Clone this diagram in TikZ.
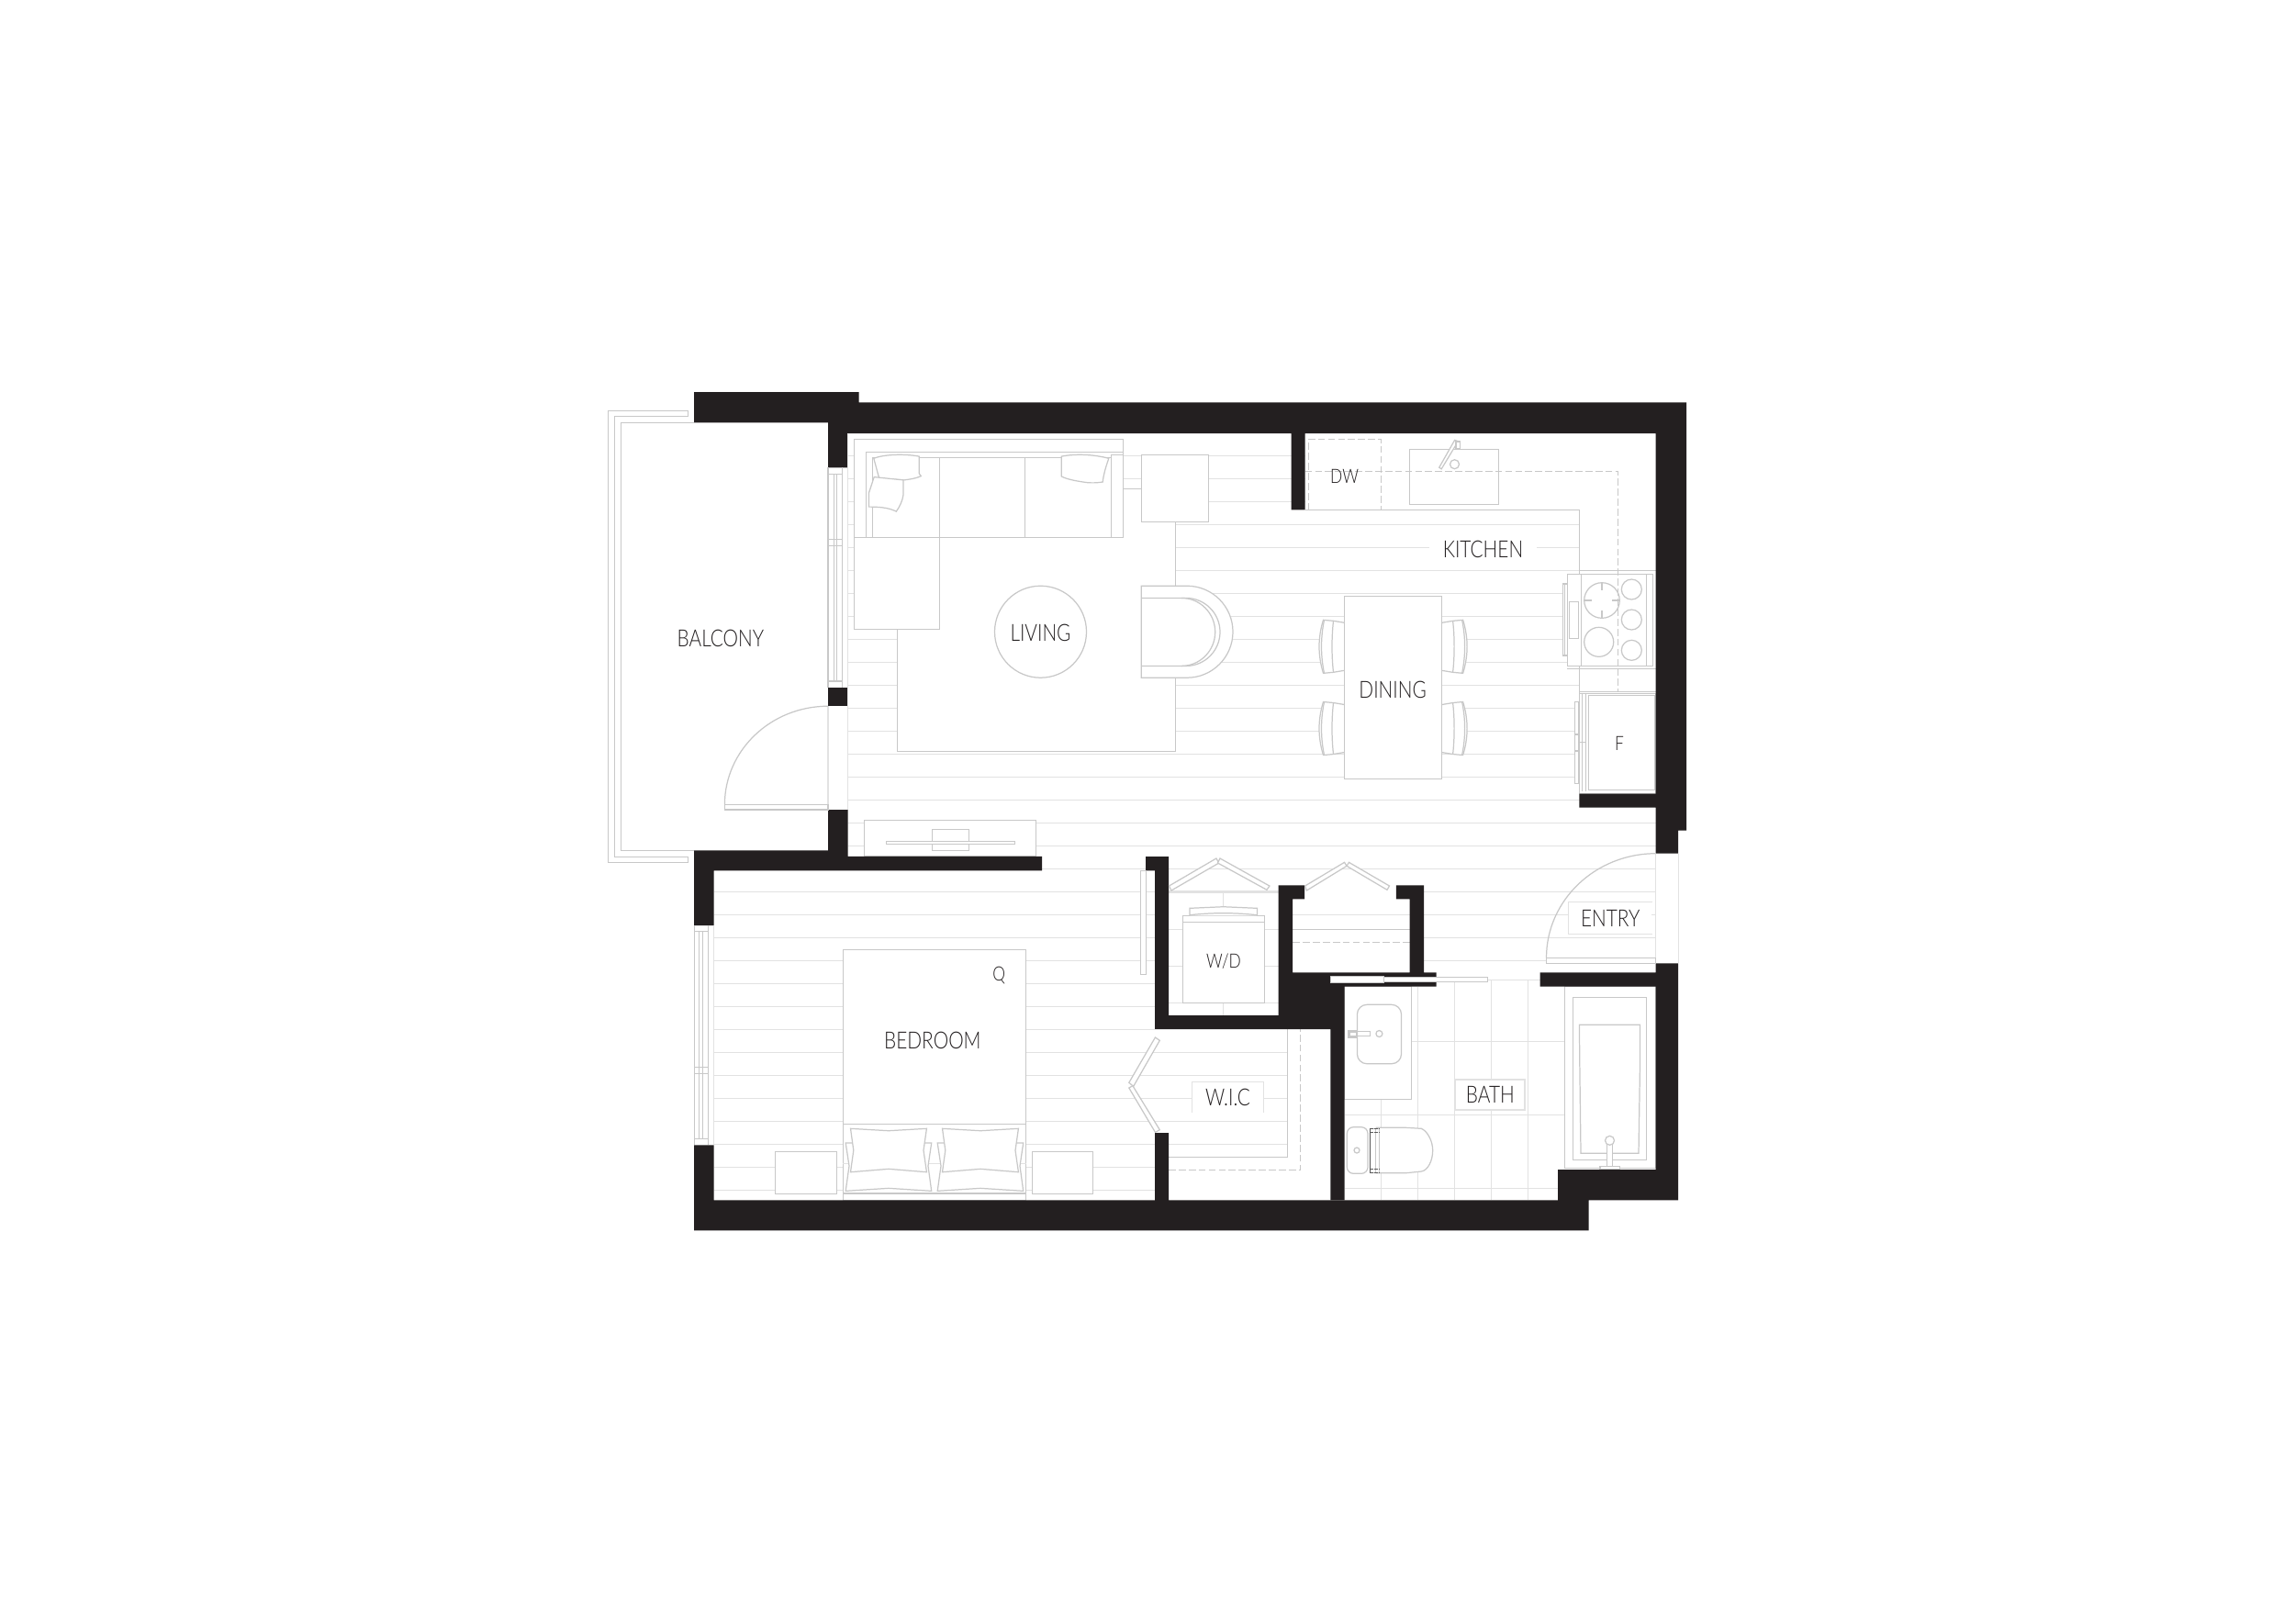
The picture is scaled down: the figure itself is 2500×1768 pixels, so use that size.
\documentclass[tikz,border=0pt]{standalone}
\usepackage{fontspec}
\setmainfont{Lato Light}[FakeStretch=0.81]
\definecolor{wallc}{HTML}{231F20}
\definecolor{linec}{HTML}{C8C8C8}
\definecolor{plankc}{HTML}{E2E2E2}
\definecolor{textc}{HTML}{231F20}
\tikzset{
    wall/.style={fill=wallc},
    furn/.style={draw=linec, line width=0.35pt, fill=white},
    thin line/.style={draw=linec, line width=0.35pt},
    plank/.style={draw=plankc, line width=0.4pt},
    cabinet/.style={draw=linec, line width=0.35pt, dash pattern=on 2.2pt off 0.9pt},
    roomname/.style={font=\fontsize{7.3}{8}\selectfont, text=textc, inner sep=0pt},
    smallname/.style={roomname, font=\fontsize{6.1}{7}\selectfont}
}
\begin{document}
\begin{tikzpicture}[x=0.01cm, y=-0.01cm]
    \useasboundingbox[fill=white] (0,0) rectangle (2500,1768);

    % floor boards and tiles
    \foreach \k in {0,...,17} {
        \draw[plank] (923.7,{496.4+25*\k}) -- (1803.7,{496.4+25*\k});
    }
    \draw[plank] (1135,946.4) -- (1803.7,946.4);
    \foreach \y in {971.4,996.4,1021.4,1046.4} {
        \draw[plank] (1551,\y) -- (1803.7,\y);
    }
    \foreach \k in {1,...,14} {
        \draw[plank] (777.6,{946.4+25*\k}) -- (1258,{946.4+25*\k});
    }
    \foreach \y in {1146.4,1171.4,1196.4,1221.4,1246.4} {
        \draw[plank] (1258,\y) -- (1402.4,\y);
    }
    \draw[plank] (1408.2,996.4) -- (1535.5,996.4);
    \foreach \y in {1134.3,1214.3,1294.3} {
        \draw[plank] (1464.5,\y) -- (1704.5,\y);
    }
    \draw[plank] (1564.5,1067.7) -- (1677.6,1067.7);
    \foreach \x in {1504.5,1544.5} {
        \draw[plank] (\x,1074.7) -- (\x,1307.3);
    }
    \foreach \x in {1584.5,1624.5,1664.5} {
        \draw[plank] (\x,1067.7) -- (\x,1307.3);
    }
    \foreach \y in {1012.3,1052.3,1092.3} {
        \draw[plank] (1273,\y) -- (1392.7,\y);
    }
    \draw[plank, line width=0.8pt] (1273,971.7) -- (1392.7,971.7);
    \draw[plank] (1332.7,971.7) -- (1332.7,988.3);
    \draw[plank] (1332.7,1092.3) -- (1332.7,1106);

    % kitchen counters
    \fill[white] (1421.6,472.1) rectangle (1803.7,555.4);
    \fill[white] (1720.4,555.4) rectangle (1803.7,864.6);
    \draw[thin line] (1421.6,555.4) -- (1720.6,555.4) -- (1720.6,864.6);
    \draw[cabinet] (1425.7,555.4) -- (1425.7,478.2) -- (1504.5,478.2) -- (1504.5,555.4);
    \draw[thin line] (1720.6,753.3) -- (1803.7,753.3);
    \draw[thin line] (1720.6,755.7) -- (1803.7,755.7);
    \draw[thin line] (1720.6,621.3) -- (1803.7,621.3);
    \draw[thin line] (1707.3,728.3) -- (1803.7,728.3);

    % sink
    \draw[furn] (1535.5,489.3) rectangle (1632.7,549.3);
    \draw[furn] (1584.5,505.7) circle (5);
    \draw[furn] (1567.7,509.2) -- (1584.6,479.4) -- (1588.4,480.6) -- (1570.2,510.8) -- cycle;
    \draw[furn] (1586,481) rectangle (1590.2,489);

    % stove
    \draw[furn] (1702.3,636) rectangle (1707.3,714);
    \draw[thin line] (1704.7,636) -- (1704.7,714);
    \draw[furn] (1707.3,625.3) rectangle (1800.7,725.3);
    \draw[thin line] (1722.3,625.3) -- (1722.3,725.3);
    \draw[thin line] (1793.3,625.3) -- (1793.3,725.3);
    \draw[furn] (1709.3,655.3) rectangle (1719.3,695.3);
    \foreach \bx/\by/\br in {1745/654/19.3, 1741.7/699.3/16, 1777.3/642/11, 1777.3/675/11, 1777.3/708.3/11} {
        \draw[thin line] (\bx,\by) circle (\br);
    }
    \draw[thin line] (1725.7,654) -- (1734,654) (1756,654) -- (1764,654);
    \draw[thin line] (1745,635) -- (1745,643.3) (1745,665) -- (1745,673.3);
    \draw[cabinet] (1421.6,513.2) -- (1762.4,513.2) -- (1762.4,753.3);

    % fridge
    \draw[furn] (1715.3,764.3) rectangle (1720,853.3);
    \draw[thin line] (1715.3,800) -- (1720,800) (1715.3,818) -- (1720,818);
    \draw[furn] (1720.6,755.7) rectangle (1803.3,864.3);
    \foreach \x in {1723.3,1727.3} {
        \draw[thin line] (\x,755.7) -- (\x,862);
    }
    \draw[furn] (1730.7,757.7) rectangle (1802.7,860.7);
    \draw[thin line] (1720.6,808.7) -- (1727.3,808.7);

    % rug, sofa and side table
    \draw[furn] (977.6,532.5) rectangle (1280.4,818.2);
    \draw[furn] (930.2,585.4) -- (930.2,478.2) -- (1223.7,478.2) -- (1223.7,585.4) -- cycle;
    \draw[thin line] (930.2,585.4) -- (943.3,585.4) -- (943.3,492.5) -- (1223.7,492.5);
    \draw[thin line] (1210.2,585.4) -- (1210.2,495.4) -- (1223.7,495.4);
    \draw[thin line] (1210.2,498.2) -- (950.2,498.2) -- (950.2,591.4) -- (930.2,591.4);
    \foreach \x in {1023.7,1116.3} {
        \draw[thin line] (\x,498.2) -- (\x,585.4);
    }
    \draw[furn] (930.2,585.4) rectangle (1023.7,685.4);
    \draw[furn] (951.8,499.3) .. controls (962,495) and (985,494) .. (1001.2,497.1) -- (1001.2,515.7) -- (1003.3,518.6) .. controls (995,522) and (990,522) .. (984.9,522.9) .. controls (975,522) and (965,522) .. (957.6,520.7) -- cycle;
    \draw[furn] (1156.3,497.1) .. controls (1172,494) and (1192,495) .. (1207.8,499.3) .. controls (1204,510) and (1202,518) .. (1201.2,525) .. controls (1195,526) and (1190,526) .. (1184.9,525.7) .. controls (1172,524) and (1162,522) .. (1156.3,518.9) -- cycle;
    \draw[furn] (952.2,519.6) -- (984.1,522.9) -- (984.1,538.6) .. controls (983,546) and (980,552) .. (976.3,557.1) .. controls (970,554) and (962,552) .. (946.5,552.1) -- (946.5,536.8) -- cycle;
    \draw[furn] (1243.3,495.4) rectangle (1316.7,568.2);
    \draw[thin line] (1223.7,532.5) -- (1243.3,532.5);
    \draw[furn] (1133.5,688.2) circle (50);

    % armchair
    \draw[furn] (1243.3,638.2) -- (1293,638.2) .. controls (1320.6,638.2) and (1343,660.6) .. (1343,688.2) .. controls (1343,715.8) and (1320.6,738.2) .. (1293,738.2) -- (1243.3,738.2) -- cycle;
    \draw[thin line] (1243.3,651.4) -- (1292,651.4) .. controls (1312.4,651.4) and (1329,668) .. (1329,688.4) .. controls (1329,708.8) and (1312.4,725.4) .. (1292,725.4) -- (1243.3,725.4);
    \draw[thin line] (1287,651.4) .. controls (1307.3,651.4) and (1323.7,668) .. (1323.7,688.4) .. controls (1323.7,708.8) and (1307.3,725.4) .. (1287,725.4);

    % media console
    \draw[furn] (941.2,893.2) rectangle (1128.6,932.9);
    \draw[furn] (1015.5,903.2) rectangle (1055.5,926.4);
    \draw[furn] (965.3,916.4) rectangle (1105.7,919.6);

    % dining table and chairs
    \foreach \cx/\cy/\sx in {1464.5/704.3/1, 1464.5/793.5/1, 1570.6/704.3/-1, 1570.6/793.5/-1} {
        \begin{scope}[shift={(\cx,\cy)}, xscale=\sx]
            \draw[furn] (0,-26) -- (-12,-28) -- (-23,-29) .. controls (-29,-10) and (-29,10) .. (-23,29) -- (-12,28) -- (0,26);
            \draw[thin line] (-12,-28) .. controls (-14,-10) and (-14,10) .. (-12,28);
            \draw[thin line] (-22,-29) .. controls (-26,-10) and (-26,10) .. (-22,29);
        \end{scope}
    }
    \draw[furn] (1464.5,649.3) rectangle (1570.6,848.2);

    % bed and night stands
    \draw[furn] (918.4,1034.3) rectangle (1117.6,1307.3);
    \draw[thin line] (918.4,1224.3) -- (1117.6,1224.3);
    \draw[thin line] (918.4,1300) -- (1117.6,1300);
    \draw[plank] (918.4,1267.3) -- (1117.6,1267.3);
    \draw[furn] (844.5,1254.3) rectangle (911.4,1300.3);
    \draw[furn] (1124.5,1254.3) rectangle (1190.6,1300.3);
    \foreach \dx in {0,100} {
        \begin{scope}[shift={(\dx,0)}]
            \draw[furn] (921.2,1245) -- (1014.7,1245) -- (1011,1270) -- (1014.7,1297.3) -- (968,1294.3) -- (921.2,1297.3) -- (925,1270) -- cycle;
            \draw[furn] (926.5,1229.3) -- (968,1231.7) -- (1009.4,1229.3) -- (1006,1253) -- (1009.4,1276.7) -- (968,1273.3) -- (926.5,1276.7) -- (929.8,1253) -- cycle;
        \end{scope}
    }

    % closets
    \draw[furn] (1288.6,997.3) rectangle (1377.6,1092.3);
    \draw[thin line] (1288.6,1004.3) -- (1377.6,1004.3);
    \draw[furn] (1295.9,997.3) -- (1295.9,989.3) -- (1332.7,987.7) -- (1369.4,989.3) -- (1369.4,997.3);
    \draw[thin line] (1295.9,996.7) .. controls (1320,994) and (1345,994) .. (1369.4,996.7);
    \draw[thin line] (1408.2,1012.3) -- (1535.5,1012.3);
    \draw[cabinet] (1408.2,1026.3) -- (1535.5,1026.3);
    \draw[thin line] (1273,1260.3) -- (1402.4,1260.3) -- (1402.4,1121);
    \draw[cabinet] (1273,1274.3) -- (1416.7,1274.3) -- (1416.7,1121);

    % bath fixtures
    \draw[furn] (1464.5,1074.7) rectangle (1537.6,1197.3);
    \draw[furn, rounded corners=3] (1478.4,1094.3) rectangle (1526.5,1158.7);
    \draw[draw=linec, line width=0.8pt] (1469.8,1123.3) rectangle (1478,1129.3);
    \draw[thin line] (1478,1123.8) rectangle (1492.7,1128.8);
    \draw[furn] (1502.4,1126) circle (3.5);
    \draw[furn, rounded corners=2] (1467.3,1227.7) rectangle (1490,1278.3);
    \draw[furn] (1478,1253) circle (3);
    \draw[furn] (1499.3,1228.3) -- (1531.7,1228.3) -- (1548.3,1229.3) .. controls (1555,1232) and (1560.7,1243) .. (1560.7,1253) .. controls (1560.7,1265) and (1555,1275) .. (1548.3,1276) -- (1531.7,1277.7) -- (1499.3,1277.7) -- cycle;
    \draw[thin line, fill=white] (1492.3,1229.3) rectangle (1502.7,1277.7);
    \draw[thin line] (1498.3,1229.3) -- (1498.3,1277.7);
    \draw[draw=black!65, line width=0.35pt] (1492.3,1229.3) -- (1492.3,1277.7);
    \foreach \y in {1229.3,1233.3,1273.3,1277.7} {
        \draw[draw=black!65, line width=0.3pt, dash pattern=on 1pt off 0.4pt] (1492.3,\y) -- (1502.7,\y);
    }
    \draw[furn] (1704.5,1074.7) rectangle (1803.7,1272.7);
    \draw[furn] (1713.5,1086.3) rectangle (1793.5,1263.3);
    \draw[furn] (1720.4,1116.3) -- (1786.5,1116.3) -- (1786.5,1158.3) -- (1785,1256.3) -- (1722,1256.3) -- (1720.8,1158.3) -- cycle;
    \draw[furn] (1750.2,1246.7) rectangle (1756.3,1270.7);
    \draw[furn] (1753.5,1242.3) circle (5);
    \draw[furn] (1742.9,1270.7) rectangle (1764.5,1274);

    % walls
    \fill[wall] (756,427) -- (935.5,427) -- (935.5,438.4) -- (1837,438.4) -- (1837,904.6) -- (1828.2,904.6) -- (1828.2,929.7) -- (1803.7,929.7) -- (1803.7,879.6) -- (1720.4,879.6) -- (1720.4,864.6) -- (1803.7,864.6) -- (1803.7,472.1) -- (1421.6,472.1) -- (1421.6,555.4) -- (1406.5,555.4) -- (1406.5,472.1) -- (923.7,472.1) -- (923.7,509.3) -- (902,509.3) -- (902,460.4) -- (756,460.4) -- cycle;
    \fill[wall] (902,749) rectangle (923.7,769.2);
    \fill[wall] (902,882) -- (923.7,882) -- (923.7,932.9) -- (1135,932.9) -- (1135,948.3) -- (777.6,948.3) -- (777.6,1008) -- (756,1008) -- (756,926.4) -- (902,926.4) -- cycle;
    \fill[wall] (756,1247.3) -- (777.6,1247.3) -- (777.6,1307.3) -- (1258,1307.3) -- (1258,1234) -- (1273,1234) -- (1273,1307.3) -- (1697.1,1307.3) -- (1697.1,1274) -- (1803.7,1274) -- (1803.7,1074.7) -- (1677.6,1074.7) -- (1677.6,1059.3) -- (1803.7,1059.3) -- (1803.7,1049.3) -- (1828.2,1049.3) -- (1828.2,1307.3) -- (1730.6,1307.3) -- (1730.6,1340.3) -- (756,1340.3) -- cycle;
    \fill[wall] (1248.2,933) -- (1273,933) -- (1273,1106) -- (1392.7,1106) -- (1392.7,964.3) -- (1421.2,964.3) -- (1421.2,979.3) -- (1408.2,979.3) -- (1408.2,1059.3) -- (1535.5,1059.3) -- (1535.5,979.3) -- (1520.8,979.3) -- (1520.8,964.3) -- (1551,964.3) -- (1551,1059.3) -- (1564.5,1059.3) -- (1564.5,1074.7) -- (1464.5,1074.7) -- (1464.5,1307.4) -- (1449.4,1307.4) -- (1449.4,1121) -- (1258,1121) -- (1258,948.3) -- (1248.2,948.3) -- cycle;

    % balcony rail and edge
    \draw[thin line] (749.4,447.5) -- (662.4,447.5) -- (662.4,939.3) -- (749.4,939.3) -- (749.4,933.2) -- (669.4,933.2) -- (669.4,453.2) -- (749.4,453.2) -- cycle;
    \draw[thin line] (756,460.4) -- (676.3,460.4) -- (676.3,926.4) -- (756,926.4);

    % windows
    \draw[thin line] (902,509.3) -- (902,749);
    \draw[thin line] (917.6,509.3) -- (917.6,749);
    \draw[plank] (923.7,472.1) -- (923.7,882);
    \foreach \x in {908.2,911.4} {
        \draw[thin line] (\x,516.4) -- (\x,742);
    }
    \foreach \y in {516.4,587.5,594.6,742} {
        \draw[thin line] (902,\y) -- (917.6,\y);
    }
    \draw[thin line] (756.3,1008) -- (756.3,1247.3);
    \draw[thin line] (771.4,1008) -- (771.4,1247.3);
    \draw[plank] (777.6,1008) -- (777.6,1247.3);
    \foreach \x in {761.2,765.7} {
        \draw[thin line] (\x,1014.3) -- (\x,1240.3);
    }
    \foreach \y in {1014.3,1162.3,1169.3,1240.3} {
        \draw[thin line] (756.3,\y) -- (771.4,\y);
    }

    % doors
    \draw[plank] (902,769.2) -- (902,882);
    \draw[furn] (789.4,876.4) rectangle (902,882);
    \draw[thin line] (789.4,876.4) .. controls (789.4,817.3) and (839.8,769.2) .. (902,769.2);
    \draw[plank] (1803.7,929.7) -- (1803.7,1049.3);
    \draw[plank] (1828.2,929.7) -- (1828.2,1049.3);
    \draw[furn] (1684.5,1043.3) rectangle (1803.7,1049.3);
    \draw[thin line] (1684.5,1043.3) .. controls (1684.5,980.6) and (1737.9,929.7) .. (1803.7,929.7);
    \draw[furn] (1242.4,948.3) rectangle (1248.6,1061.7);
    \draw[furn] (1449.4,1063.3) rectangle (1507.3,1070.7);
    \draw[furn] (1507.3,1064.3) rectangle (1620.4,1069.3);
    \foreach \xa/\ya/\xb/\yb/\xc/\yc/\xd/\yd in {
        1258.4/1130/1263.3/1133.3/1234.7/1183.3/1229.8/1179.3,
        1229.8/1185/1233.9/1182.7/1263.3/1230.7/1258.4/1233.3,
        1273.5/965/1275.9/970/1327.8/940/1324.9/935,
        1329/935/1382.9/965/1380/969.3/1326.5/940,
        1421.6/965/1423.3/970/1467/943.3/1464.5/939.3,
        1469.4/939.3/1513.5/965/1511/969.3/1467/943.3
    } {
        \draw[furn] (\xa,\ya) -- (\xb,\yb) -- (\xc,\yc) -- (\xd,\yd) -- cycle;
    }

    % room names
    \node[roomname] (balcony) at (784.9,695.7) {BALCONY};
    \node[roomname] (living) at (1133.5,689.3) {LIVING};
    \node[roomname, fill=white, minimum width=1.16cm, minimum height=0.4cm] (kitchen) at (1615.5,598.6) {KITCHEN};
    \node[smallname] (dw) at (1464.5,518.6) {DW};
    \node[roomname] (dining) at (1517.1,751.4) {DINING};
    \node[smallname] (fridge) at (1764,810) {F};
    \node[smallname] (queen) at (1088.2,1062.7) {Q};
    \node[roomname] (bedroom) at (1015.9,1133.7) {BEDROOM};
    \node[smallname] (wd) at (1333,1047) {W/D};
    \node[roomname, fill=white, minimum width=0.76cm, minimum height=0.325cm] (wic) at (1337.5,1195.5) {W.I.C};
    \draw[plank] (wic.south west) -- (wic.north west) -- (wic.north east) -- (wic.south east);
    \node[roomname, fill=white, draw=plankc, line width=0.6pt, minimum width=0.76cm, minimum height=0.33cm] (bath) at (1623.3,1192.8) {BATH};
    \node[roomname, fill=white, minimum width=0.9cm, minimum height=0.335cm] (entry) at (1754.3,1000) {ENTRY};
    \draw[plank] (entry.north east) -- (entry.north west) -- (entry.south west) -- (entry.south east);
\end{tikzpicture}
\end{document}
